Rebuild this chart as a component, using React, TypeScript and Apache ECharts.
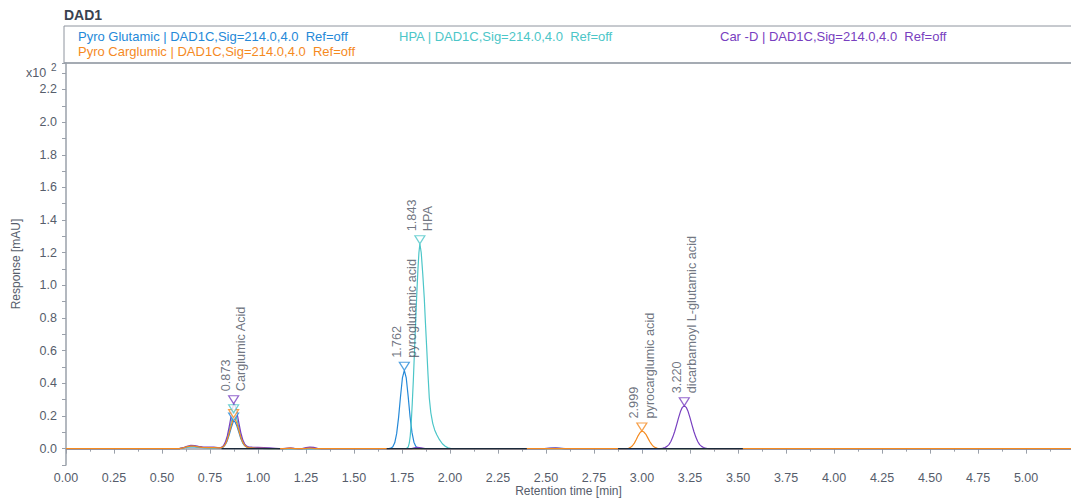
import React, { useEffect, useRef } from "react";
import * as echarts from "echarts";

const FONT = "'Liberation Sans', Arial, sans-serif";

const seriesNames = ["Pyro Glutamic", "HPA", "Car -D", "Pyro Carglumic"];
const legendTexts = [
  "Pyro Glutamic | DAD1C,Sig=214.0,4.0  Ref=off",
  "HPA | DAD1C,Sig=214.0,4.0  Ref=off",
  "Car -D | DAD1C,Sig=214.0,4.0  Ref=off",
  "Pyro Carglumic | DAD1C,Sig=214.0,4.0  Ref=off",
];
const seriesColors = ["#2589d8", "#4cc6c8", "#7840c0", "#f58a1f"];

const X_MIN = 0;
const X_MAX = 5.234;
const X_INTERVAL = 0.25;
const Y_MIN = -0.1;
const Y_MAX = 2.362;
const Y_INTERVAL = 0.1;

const pyroGlutamic: [number, number][] = [
  [0, 0], [0.59, 0], [0.61, 0.004], [0.63, 0.009], [0.65, 0.012], [0.67, 0.011], [0.69, 0.008], [0.72, 0.006], [0.76, 0.005], [0.8, 0.004],
  [0.81, 0.005], [0.82, 0.011], [0.83, 0.025], [0.84, 0.049], [0.85, 0.085], [0.86, 0.126], [0.87, 0.161], [0.873, 0.17], [0.88, 0.165], [0.89, 0.139], [0.9, 0.101], [0.91, 0.063], [0.92, 0.036], [0.93, 0.019], [0.94, 0.01], [0.95, 0.006], [0.98, 0.003], [1.02, 0.001], [1.06, 0],
  [1.682, 0], [1.692, 0.003], [1.702, 0.012], [1.712, 0.036], [1.722, 0.092], [1.732, 0.19], [1.742, 0.318], [1.752, 0.433], [1.762, 0.48], [1.772, 0.433], [1.782, 0.32], [1.792, 0.195], [1.802, 0.098], [1.812, 0.04], [1.822, 0.014], [1.832, 0.004], [1.842, 0.001], [1.852, 0],
  [5.234, 0],
];

const hpa: [number, number][] = [
  [0, 0], [0.59, 0], [0.61, 0.004], [0.63, 0.01], [0.65, 0.013], [0.67, 0.012], [0.69, 0.009], [0.72, 0.007], [0.76, 0.005], [0.8, 0.005],
  [0.81, 0.007], [0.82, 0.015], [0.83, 0.033], [0.84, 0.064], [0.85, 0.11], [0.86, 0.163], [0.87, 0.208], [0.873, 0.22], [0.88, 0.213], [0.89, 0.179], [0.9, 0.13], [0.91, 0.081], [0.92, 0.046], [0.93, 0.024], [0.94, 0.013], [0.95, 0.008], [0.98, 0.004], [1.02, 0.002], [1.06, 0],
  [1.772, 0], [1.782, 0.01], [1.788, 0.035], [1.793, 0.08], [1.798, 0.16], [1.803, 0.27], [1.809, 0.42], [1.815, 0.6], [1.821, 0.78], [1.827, 0.95], [1.833, 1.1], [1.838, 1.2], [1.843, 1.255],
  [1.85, 1.2], [1.858, 1.07], [1.866, 0.92], [1.872, 0.77], [1.878, 0.63], [1.885, 0.46], [1.892, 0.31], [1.9, 0.22], [1.91, 0.155], [1.92, 0.115], [1.931, 0.085], [1.945, 0.055], [1.96, 0.03], [1.975, 0.015], [1.99, 0.005], [2.005, 0],
  [2.5, 0], [2.53, 0.003], [2.56, 0.003], [2.59, 0],
  [5.234, 0],
];

const carD: [number, number][] = [
  [0, 0], [0.59, 0], [0.61, 0.006], [0.63, 0.015], [0.65, 0.02], [0.67, 0.019], [0.69, 0.014], [0.71, 0.011], [0.74, 0.01], [0.77, 0.009], [0.79, 0.006],
  [0.8, 0.005], [0.81, 0.008], [0.82, 0.018], [0.83, 0.04], [0.84, 0.078], [0.85, 0.135], [0.86, 0.2], [0.87, 0.26], [0.873, 0.275], [0.88, 0.266], [0.89, 0.222], [0.9, 0.16], [0.91, 0.1], [0.92, 0.057], [0.93, 0.03], [0.94, 0.016], [0.95, 0.011], [0.97, 0.009], [1.0, 0.008], [1.03, 0.007], [1.06, 0.005], [1.09, 0.002], [1.11, 0],
  [1.13, 0], [1.155, 0.004], [1.17, 0.005], [1.19, 0.002], [1.21, 0], [1.23, 0], [1.25, 0.006], [1.27, 0.01], [1.29, 0.008], [1.31, 0.002], [1.33, 0],
  [1.8, 0], [1.815, 0.005], [1.83, 0.008], [1.85, 0.005], [1.87, 0],
  [2.49, 0], [2.52, 0.004], [2.55, 0.005], [2.58, 0.002], [2.6, 0],
  [3.09, 0], [3.1, 0.001], [3.11, 0.003], [3.12, 0.007], [3.13, 0.014], [3.14, 0.025], [3.15, 0.044], [3.16, 0.071], [3.17, 0.105], [3.18, 0.146], [3.19, 0.189], [3.2, 0.227], [3.21, 0.253], [3.22, 0.263],
  [3.23, 0.253], [3.24, 0.227], [3.25, 0.189], [3.26, 0.146], [3.27, 0.105], [3.28, 0.071], [3.29, 0.044], [3.3, 0.025], [3.31, 0.014], [3.32, 0.007], [3.33, 0.003], [3.34, 0.001], [3.35, 0],
  [5.234, 0],
];

const pyroCarglumic: [number, number][] = [
  [0, 0], [0.59, 0], [0.61, 0.005], [0.63, 0.012], [0.65, 0.016], [0.67, 0.015], [0.69, 0.011], [0.71, 0.008], [0.74, 0.007], [0.77, 0.006], [0.8, 0.005],
  [0.81, 0.006], [0.82, 0.013], [0.83, 0.028], [0.84, 0.055], [0.85, 0.095], [0.86, 0.14], [0.87, 0.18], [0.873, 0.19], [0.88, 0.184], [0.89, 0.155], [0.9, 0.113], [0.91, 0.07], [0.92, 0.04], [0.93, 0.021], [0.94, 0.011], [0.95, 0.007], [0.98, 0.004], [1.02, 0.002], [1.06, 0],
  [1.14, 0], [1.165, 0.003], [1.19, 0], [1.24, 0], [1.27, 0.004], [1.3, 0],
  [2.92, 0], [2.93, 0.002], [2.94, 0.008], [2.95, 0.018], [2.96, 0.034], [2.97, 0.056], [2.98, 0.08], [2.99, 0.099], [2.999, 0.108], [3.01, 0.102], [3.02, 0.088], [3.03, 0.066], [3.04, 0.044], [3.05, 0.026], [3.06, 0.013], [3.07, 0.006], [3.08, 0.002], [3.09, 0],
  [5.234, 0],
];

const traces = [pyroGlutamic, hpa, carD, pyroCarglumic];

const baselineStarts = [0.81, 1.67, 2.875];
const baselineEnds = [1.115, 2.4, 3.525];

const peakTimes = [0.873, 0.873, 0.873, 0.873, 1.762, 1.843, 2.999, 3.22];
const peakHeights = [0.17, 0.19, 0.22, 0.275, 0.48, 1.255, 0.108, 0.263];
const peakSeries = [0, 3, 1, 2, 0, 1, 3, 2];
const peakLabels = [
  "",
  "",
  "",
  "0.873\nCarglumic Acid",
  "1.762\npyroglutamic acid",
  "1.843\nHPA",
  "2.999\npyrocarglumic acid",
  "3.220\ndicarbamoyl L-glutamic acid",
];

const AXIS_COLOR = "#9aa0aa";
const LABEL_COLOR = "#565d6b";

export default function App() {
  const ref = useRef<HTMLDivElement>(null);

  useEffect(() => {
    document.body.style.margin = "0";
    const chart = echarts.init(ref.current!, undefined, { renderer: "svg", width: 1071, height: 498 });

    const lineSeries: any[] = traces.map((data, i) => ({
      type: "line",
      name: seriesNames[i],
      data,
      showSymbol: false,
      symbol: "none",
      lineStyle: { color: seriesColors[i], width: 1.2 },
      itemStyle: { color: seriesColors[i] },
      z: 2 + i,
    }));

    const baselineSeries: any[] = baselineStarts.map((s, i) => ({
      type: "line",
      data: [
        [s, 0],
        [baselineEnds[i], 0],
      ],
      symbol: "none",
      lineStyle: { color: "#1c2a3a", width: 1.3 },
      z: 8,
    }));

    const markerSeries: any = {
      type: "scatter",
      symbol: "triangle",
      symbolRotate: 180,
      symbolSize: [10, 8],
      symbolOffset: [0, -4],
      z: 10,
      data: peakTimes.map((t, i) => ({
        value: [t, peakHeights[i]],
        itemStyle: {
          color: "#ffffff",
          borderColor: seriesColors[peakSeries[i]],
          borderWidth: 1.2,
        },
        label: {
          show: peakLabels[i] !== "",
          formatter: peakLabels[i],
          position: "top",
          distance: 4,
          rotate: 90,
          align: "left",
          verticalAlign: "middle",
          color: "#4b5261",
          fontSize: 12.7,
          lineHeight: 15.5,
          fontFamily: FONT,
        },
      })),
    };

    const isMultiple = (v: number, step: number) =>
      Math.abs(v / step - Math.round(v / step)) < 1e-6;

    chart.setOption({
      animation: false,
      grid: {
        left: 66,
        width: 1005,
        top: 63,
        height: 402,
        containLabel: false,
        outerBoundsMode: "none",
      },
      xAxis: {
        type: "value",
        min: X_MIN,
        max: X_MAX,
        interval: X_INTERVAL,
        name: "Retention time [min]",
        nameLocation: "middle",
        nameGap: 20,
        nameMoveOverlap: false,
        nameTextStyle: { color: LABEL_COLOR, fontSize: 12, fontFamily: FONT },
        axisLine: { show: true, lineStyle: { color: AXIS_COLOR, width: 1.5 } },
        axisTick: { show: true, length: 5, lineStyle: { color: AXIS_COLOR } },
        minorTick: { show: true, splitNumber: 2, length: 3, lineStyle: { color: AXIS_COLOR } },
        axisLabel: {
          color: LABEL_COLOR,
          fontSize: 12.5,
          fontFamily: FONT,
          margin: 6,
          formatter: (v: number) => (isMultiple(v, X_INTERVAL) ? v.toFixed(2) : ""),
        },
        splitLine: { show: false },
      },
      yAxis: {
        type: "value",
        min: Y_MIN,
        max: Y_MAX,
        interval: Y_INTERVAL,
        offset: 2,
        name: "Response [mAU]",
        nameLocation: "middle",
        nameGap: 42,
        nameMoveOverlap: false,
        nameTextStyle: { color: LABEL_COLOR, fontSize: 12, fontFamily: FONT },
        axisLine: { show: true, lineStyle: { color: AXIS_COLOR, width: 1.5 } },
        axisTick: { show: true, length: 4, lineStyle: { color: AXIS_COLOR } },
        axisLabel: {
          color: LABEL_COLOR,
          fontSize: 12.5,
          fontFamily: FONT,
          margin: 7,
          interval: 0,
          formatter: (v: number) => (v >= -1e-9 && isMultiple(v, 0.2) ? v.toFixed(1) : ""),
        },
        splitLine: { show: false },
      },
      graphic: [
        {
          type: "text",
          left: 64,
          top: 8,
          style: { text: "DAD1", fill: "#3a4250", font: `bold 14px ${FONT}` },
        },
        {
          type: "rect",
          shape: { x: 64, y: 26, width: 1020, height: 37 },
          style: { fill: "none", stroke: "#8e949e", lineWidth: 1 },
        },
        {
          type: "line",
          shape: { x1: 64, y1: 63, x2: 1071, y2: 63 },
          style: { stroke: AXIS_COLOR, lineWidth: 1.5 },
        },
        {
          type: "text",
          left: 78,
          top: 30,
          style: { text: legendTexts[0], fill: seriesColors[0], font: `13px ${FONT}` },
        },
        {
          type: "text",
          left: 399,
          top: 30,
          style: { text: legendTexts[1], fill: seriesColors[1], font: `13px ${FONT}` },
        },
        {
          type: "text",
          left: 720,
          top: 30,
          style: { text: legendTexts[2], fill: seriesColors[2], font: `13px ${FONT}` },
        },
        {
          type: "text",
          left: 78,
          top: 45,
          style: { text: legendTexts[3], fill: seriesColors[3], font: `13px ${FONT}` },
        },
        {
          type: "text",
          left: 26,
          top: 66,
          style: { text: "x10", fill: LABEL_COLOR, font: `12.5px ${FONT}` },
        },
        {
          type: "text",
          left: 51,
          top: 62,
          style: { text: "2", fill: LABEL_COLOR, font: `10px ${FONT}` },
        },
      ],
      series: [...lineSeries, ...baselineSeries, markerSeries],
    });

    return () => chart.dispose();
  }, []);

  return (
    <div
      ref={ref}
      style={{ position: "fixed", left: 0, top: 0, width: 1071, height: 498, background: "#fff" }}
    />
  );
}
